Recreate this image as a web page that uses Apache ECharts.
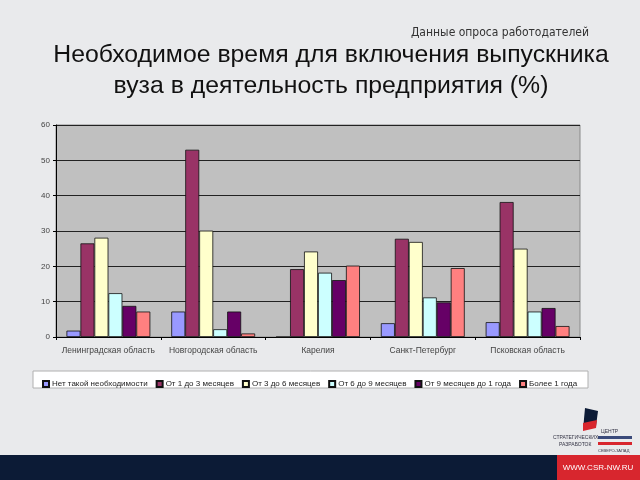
<!DOCTYPE html>
<html>
<head>
<meta charset="utf-8">
<script src="https://cdn.jsdelivr.net/npm/echarts@6/dist/echarts.min.js"></script>
<style>
  html, body { margin: 0; padding: 0; background: #e9eaec; }
  #chart { width: 640px; height: 480px; }
</style>
</head>
<body>
<div id="chart"></div>
<script>
// регионы
const regions = ['Ленинградская область', 'Новгородская область', 'Карелия', 'Санкт-Петербург', 'Псковская область']
const seriesNames = ['Нет такой необходимости', 'От 1 до 3 месяцев', 'От 3 до 6 месяцев', 'От 6 до 9 месяцев', 'От 9 месяцев до 1 года', 'Более 1 года']
const noNeed = [1.8, 7.2, 0, 3.9, 4.2]
const m1to3 = [26.5, 53, 19.2, 27.8, 38.2]
const m3to6 = [28.1, 30.1, 24.2, 26.9, 25.0]
const m6to9 = [12.4, 2.2, 18.2, 11.2, 7.2]
const m9to12 = [8.8, 7.2, 16.1, 9.8, 8.2]
const over1y = [7.2, 1.0, 20.2, 19.5, 3.1]
const colors = ['#9999ff', '#993366', '#ffffcc', '#ccffff', '#660066', '#ff8080']

const values = [noNeed, m1to3, m3to6, m6to9, m9to12, over1y]

const myChart = echarts.init(document.getElementById('chart'))
const option = {
  backgroundColor: '#e9eaec',
  textStyle: { fontFamily: 'Liberation Sans, Arial, sans-serif' },
  title: [{
    text: 'Данные опроса работодателей',
    right: 46,
    top: 22,
    textStyle: { fontFamily: 'Liberation Sans Narrow, DejaVu Sans Condensed, sans-serif', fontSize: 12, fontWeight: 'normal', color: '#333' }
  }, {
    text: 'Необходимое время для включения выпускника\nвуза в деятельность предприятия (%)',
    left: 326,
    textAlign: 'center',
    top: 35,
    textStyle: { fontSize: 24.8, fontWeight: 'normal', color: '#111', lineHeight: 31 }
  }],
  graphic: [
    // рамка легенды
    { type: 'rect', shape: { x: 33, y: 371, width: 555, height: 17 }, style: { fill: '#fff', stroke: '#b0b0b0', lineWidth: 1 }, z: -1 },
    // нижняя полоса
    { type: 'rect', shape: { x: 0, y: 455, width: 640, height: 25 }, style: { fill: '#0c1b36' } },
    { type: 'rect', shape: { x: 557, y: 455, width: 83, height: 25 }, style: { fill: '#d8262e' } },
    { type: 'text', x: 598, y: 468, style: { text: 'WWW.CSR-NW.RU', fill: '#fff', fontSize: 8, align: 'center', verticalAlign: 'middle' } },
    // логотип
    { type: 'polygon', shape: { points: [[585, 408], [598, 411], [596, 426], [583, 430]] }, style: { fill: '#0c1b36' } },
    { type: 'polygon', shape: { points: [[583, 423], [597, 420], [596, 428], [583, 431]] }, style: { fill: '#d8262e' } },
    { type: 'text', x: 601, y: 429, style: { text: 'ЦЕНТР', fill: '#334', fontSize: 5 } },
    { type: 'text', x: 553, y: 435, style: { text: 'СТРАТЕГИЧЕСКИХ', fill: '#334', fontSize: 5 } },
    { type: 'text', x: 559, y: 442, style: { text: 'РАЗРАБОТОК', fill: '#334', fontSize: 5 } },
    { type: 'text', x: 598, y: 449, style: { text: 'СЕВЕРО-ЗАПАД', fill: '#334', fontSize: 4 } },
    { type: 'rect', shape: { x: 598, y: 436, width: 34, height: 3 }, style: { fill: '#3a4a7a' } },
    { type: 'rect', shape: { x: 598, y: 442, width: 34, height: 3 }, style: { fill: '#d8262e' } }
  ],
  legend: {
    data: seriesNames,
    left: 37,
    top: 375,
    width: 560,
    itemWidth: 6,
    itemHeight: 6,
    itemGap: 8,
    icon: 'rect',
    textStyle: { fontSize: 8, color: '#222', padding: [0, 0, 0, -2] }
  },
  grid: {
    left: 56,
    right: 60,
    top: 125,
    bottom: 143,
    show: true,
    backgroundColor: '#c0c0c0',
    borderColor: '#8a8a8a'
  },
  xAxis: {
    type: 'category',
    data: regions,
    axisLine: { lineStyle: { color: '#000' } },
    axisTick: { show: true, length: 3, lineStyle: { color: '#000' } },
    axisLabel: { fontSize: 8.5, color: '#444', margin: 9, interval: 0 }
  },
  yAxis: {
    type: 'value',
    min: 0,
    max: 60,
    interval: 10,
    axisLine: { show: true, lineStyle: { color: '#000' } },
    axisTick: { show: true, length: 3, lineStyle: { color: '#000' } },
    axisLabel: { fontSize: 8, color: '#444', margin: 6 },
    splitLine: { show: true, lineStyle: { color: '#222', width: 1 } }
  },
  series: seriesNames.map((name, i) => ({
    name: name,
    type: 'bar',
    data: values[i],
    barGap: '0%',
    barCategoryGap: '20%',
    itemStyle: { color: colors[i], borderColor: '#111', borderWidth: 0.8 }
  }))
}
myChart.setOption(option)
</script>
</body>
</html>
